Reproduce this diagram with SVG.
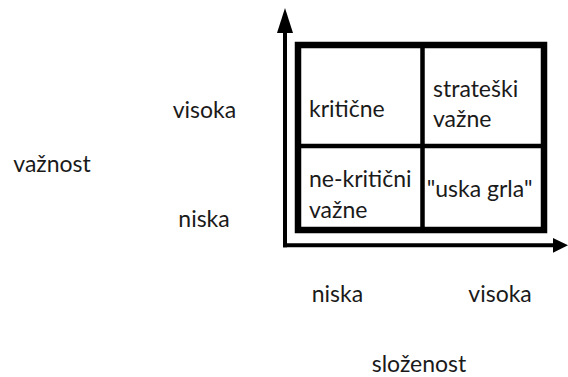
<svg xmlns="http://www.w3.org/2000/svg" width="568" height="377" viewBox="0 0 568 377">
<style>
text{font-family:Lato,"Open Sans","Liberation Sans",sans-serif;font-size:23px;fill:#1a1a1a}
.box{fill:#fff;stroke:#000;stroke-width:6.5}
.div{stroke:#000;stroke-width:4.5;fill:none}
.axis{stroke:#000;stroke-width:4;fill:none}
</style>
<rect width="568" height="377" fill="#fff"/>
<g id="connectors">
<line class="axis" x1="285" y1="247.3" x2="285" y2="30"/>
<polygon points="285,8 277,33 293,33" fill="#000"/>
<line class="axis" x1="283" y1="245.3" x2="555" y2="245.3"/>
<polygon points="568,245.3 553,238 553,252.7" fill="#000"/>
</g>
<g id="matrix">
<rect class="box" x="298" y="45" width="246" height="185"/>
<line class="div" x1="422.5" y1="45" x2="422.5" y2="230"/>
<line class="div" x1="298" y1="146" x2="544" y2="146"/>
</g>
<g id="cell-kriticne"><text x="309" y="116.7">kritične</text></g>
<g id="cell-strateski"><text x="433" y="96.7">strateški</text><text x="433" y="126.7">važne</text></g>
<g id="cell-nekriticni"><text x="309" y="186.7">ne-kritični</text><text x="309" y="218.3">važne</text></g>
<g id="cell-uska"><text x="426.7" y="196.7">"uska grla"</text></g>
<g id="labels">
<text x="172.7" y="117.7">visoka</text>
<text x="13.3" y="171.7">važnost</text>
<text x="178.3" y="226.7">niska</text>
<text x="311.7" y="301.7">niska</text>
<text x="468.3" y="301.7">visoka</text>
<text x="371.7" y="371.7">složenost</text>
</g>
</svg>
